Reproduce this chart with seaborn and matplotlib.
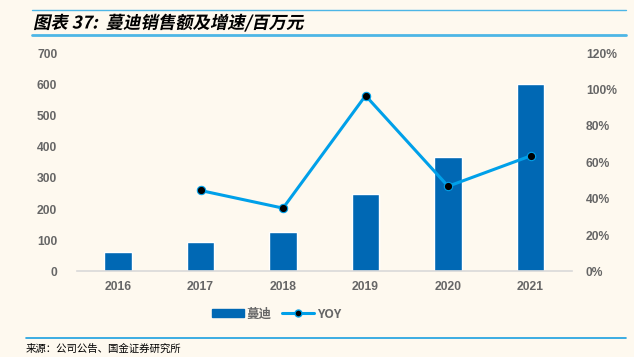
import numpy as np
import pandas as pd
import matplotlib
matplotlib.use("Agg")
import matplotlib.pyplot as plt
from matplotlib.lines import Line2D
from matplotlib.patches import Patch, PathPatch
from matplotlib.textpath import TextPath
from matplotlib.font_manager import FontProperties
from matplotlib.transforms import Affine2D, IdentityTransform
import seaborn as sns

# data
years = ["2016", "2017", "2018", "2019", "2020", "2021"]
sales = [64, 93, 126, 249, 366, 601]          # 蔓迪销售额, 百万元
yoy_years = ["2017", "2018", "2019", "2020", "2021"]
yoy = [44.5, 34.8, 96.6, 46.8, 63.5]          # YOY, %

bg = "#FEF9EF"
bar_color = "#0068B4"
line_color = "#00A0E9"
tick_color = "#666666"

sns.set_theme(style="white")
plt.rcParams["font.family"] = ["Noto Sans CJK SC", "DejaVu Sans"]

fig = plt.figure(figsize=(6.34, 3.57), dpi=100, facecolor=bg)
ax = fig.add_axes([0.121, 0.2395, 0.781, 0.612])
ax.set_facecolor(bg)

df = pd.DataFrame({"year": years, "sales": sales})
sns.barplot(data=df, x="year", y="sales", color=bar_color, saturation=1,
            width=0.33, ax=ax)

ax2 = ax.twinx()
df_yoy = pd.DataFrame({"pos": [years.index(y) for y in yoy_years], "yoy": yoy})
sns.lineplot(data=df_yoy, x="pos", y="yoy", ax=ax2, color=line_color, lw=2.2,
             marker="o", markersize=6, markerfacecolor="black",
             markeredgecolor=line_color, markeredgewidth=0.8)

ax.set_xlim(-0.5, 5.5)
ax.set_ylim(0, 700)
ax.set_yticks(range(0, 701, 100))
ax2.set_ylim(0, 120)
ax2.set_yticks(range(0, 121, 20))
ax2.set_yticklabels([f"{v}%" for v in range(0, 121, 20)])

ax.set_xlabel("")
ax.set_ylabel("")
ax2.set_xlabel("")
ax2.set_ylabel("")

for a in (ax, ax2):
    for s in ["top", "left", "right", "bottom"]:
        a.spines[s].set_visible(False)
ax.spines["bottom"].set_visible(True)
ax.spines["bottom"].set_color("#D9D9D9")
ax.spines["bottom"].set_linewidth(1.2)

ax.tick_params(axis="x", length=0, pad=7, labelcolor=tick_color)
ax.set_xticks(np.arange(-0.5, 6, 1), minor=True)
ax.tick_params(axis="x", which="minor", length=3, color="#D9D9D9", width=1)
ax.tick_params(axis="y", length=0, pad=14, labelcolor=tick_color)
ax2.tick_params(axis="y", length=0, pad=10, labelcolor=tick_color)
tick_font = FontProperties(family="Liberation Sans", weight="bold", size=8.7)
for lab in ax.get_xticklabels() + ax.get_yticklabels() + ax2.get_yticklabels():
    lab.set_fontproperties(tick_font)
ax.grid(False)
ax2.grid(False)

# legend
handles = [Patch(facecolor=bar_color, edgecolor=bar_color),
           Line2D([0], [0], color=line_color, lw=2.2, marker="o", markersize=5,
                  markerfacecolor="black", markeredgecolor=line_color)]
leg = fig.legend(handles, ["蔓迪", "YOY"], loc="center", ncol=2,
                 bbox_to_anchor=(0.436, 0.12), frameon=False, fontsize=9,
                 handlelength=2.6, handleheight=0.65, columnspacing=0.8,
                 handletextpad=0.2)
for t in leg.get_texts():
    t.set_color(tick_color)
    t.set_fontweight("bold")

# title block
fig.add_artist(Line2D([32 / 634, 626 / 634], [1 - 9.5 / 357] * 2,
                      color="#4DB6E6", lw=1.0))
fig.add_artist(Line2D([32 / 634, 626 / 634], [1 - 34.7 / 357] * 2,
                      color="#4DB6E6", lw=2.0))
# slanted title drawn as a path (the CJK font has no italic face)
title_path = TextPath((0, 0), "图表 37:  蔓迪销售额及增速/百万元", size=12.5,
                      prop=FontProperties(family="Noto Sans CJK SC", weight="bold"))
title_tf = (Affine2D().skew_deg(12, 0).scale(100 / 72)
            .translate(33, 357 - 28.5)) + IdentityTransform()
fig.add_artist(PathPatch(title_path, transform=title_tf, facecolor="black",
                         edgecolor="none"))

# source block
fig.add_artist(Line2D([26 / 634, 626 / 634], [1 - 337.7 / 357] * 2,
                      color="#1AA0E0", lw=1.2))
fig.text(26 / 634, 1 - 349 / 357, "来源：公司公告、国金证券研究所",
         fontsize=7.5, va="center", ha="left", color="black")

fig.savefig("out.png", dpi=100, facecolor=bg)
